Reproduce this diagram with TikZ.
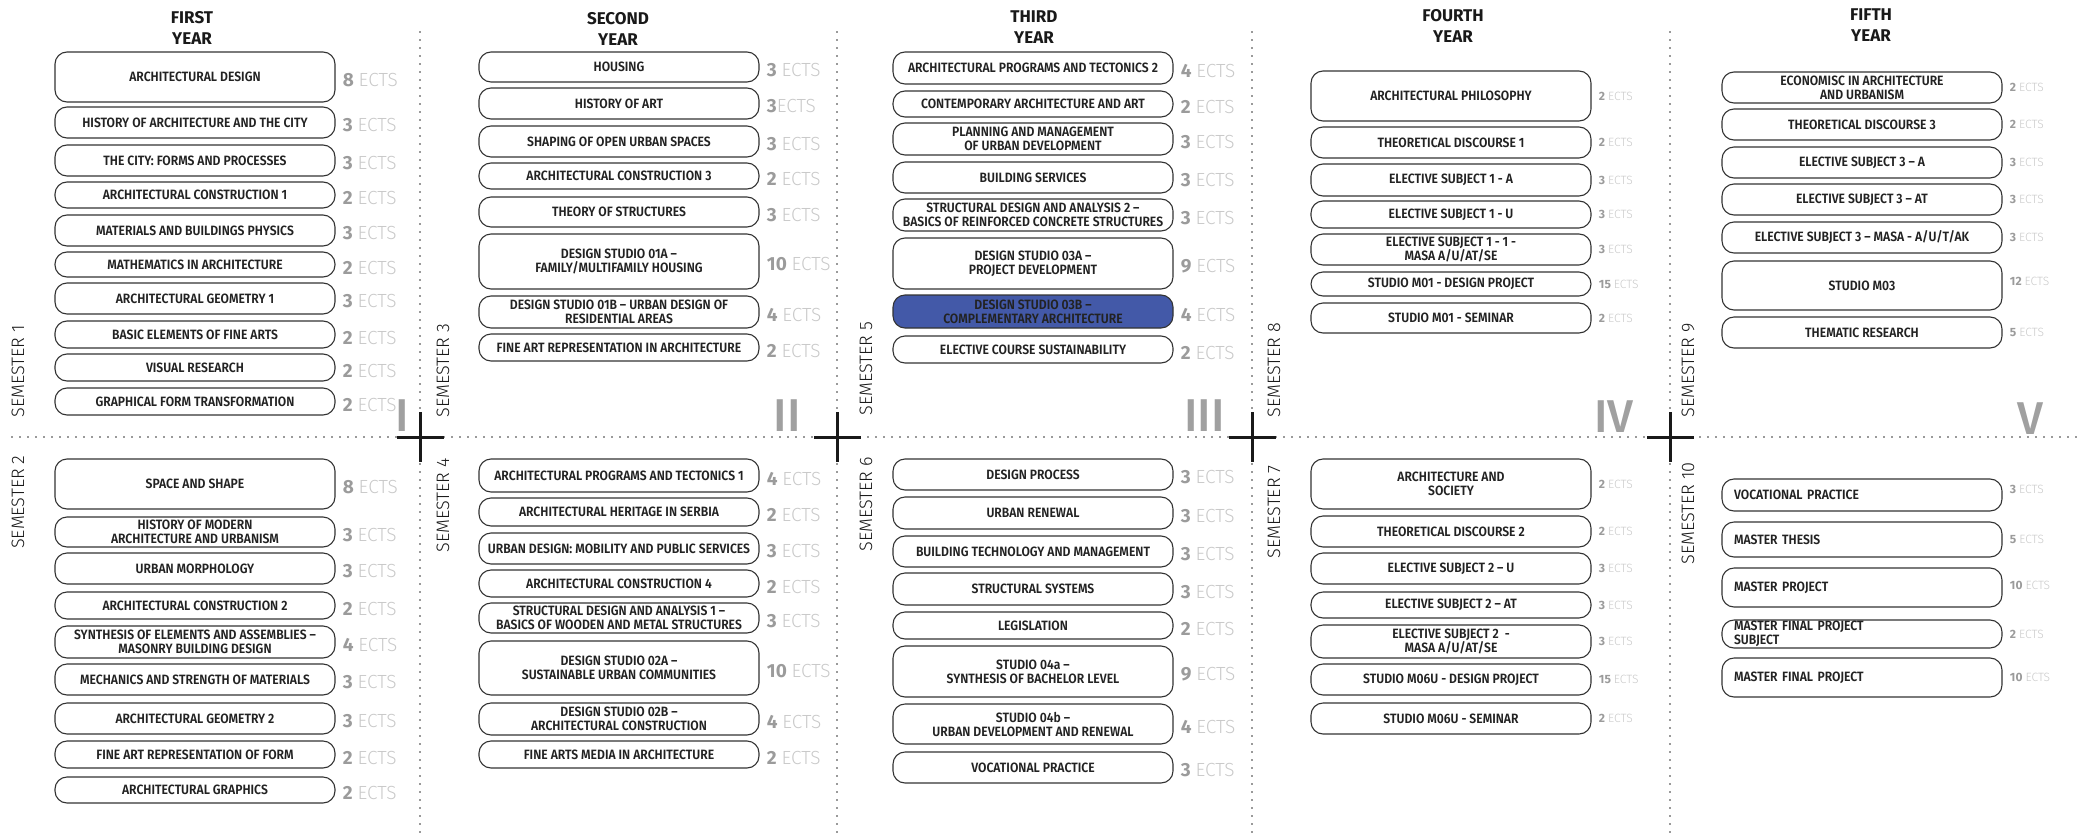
\documentclass[tikz,border=0pt]{standalone}
\usepackage{fontspec}
\setmainfont{Fira Sans}[UprightFont=* Medium, BoldFont=* Bold]
\newfontfamily\lightfont{Fira Sans Light}
\newfontfamily\coursefont{Fira Sans}[UprightFont=* SemiBold, FakeStretch=0.9]
\usetikzlibrary{positioning}

\definecolor{boxline}{HTML}{333333}
\definecolor{boxtext}{HTML}{222222}
\definecolor{ectsnum}{HTML}{9B9B9B}
\definecolor{ectsword}{HTML}{C9C9C9}
\definecolor{romangray}{HTML}{A0A0A0}
\definecolor{studioblue}{HTML}{4359A8}

\newcommand{\ects}[1]{{\bfseries\color{ectsnum}#1} {\lightfont\color{ectsword}ECTS}}

\tikzset{every picture/.style={line width=0.75pt}}
\tikzset{
  course/.style={draw=boxline, line width=1.1pt, rounded corners=12pt, minimum width=280pt,
    inner sep=0pt, align=center, text=boxtext, font=\coursefont\fontsize{13.5}{14}\selectfont},
  courseleft/.style={course, align=left, text width=256pt, inner xsep=12pt},
  ectsbig/.style={anchor=west, inner sep=0pt, yshift=-3pt, font=\fontsize{19}{19}\selectfont},
  ectssmall/.style={anchor=west, inner sep=0pt, font=\fontsize{12}{12}\selectfont},
  semester/.style={rotate=90, inner sep=0pt, text=black!90, font=\lightfont\fontsize{18}{18}\selectfont},
  yeartitle/.style={align=center, inner sep=0pt, text=black!90, font=\bfseries\fontsize{17}{21}\selectfont},
  roman/.style={anchor=south east, inner sep=0pt, text=romangray, font=\fontsize{46}{46}\selectfont},
  dotline/.style={draw=black!80, line width=1.8pt, line cap=round, dash pattern=on 0pt off 8pt},
  crossbar/.style={draw=black!90, line width=3pt}
}

\begin{document}
\begin{tikzpicture}[x=1pt,y=1pt,yscale=-1,xscale=1]
\useasboundingbox (0,0) rectangle (2080,835);

% Dotted grid
\draw [dotline] (12,437) -- (2080,437) ;
\foreach \x in {420,837,1252,1670} {
  \draw [dotline] (\x,32) -- (\x,835) ;
  \draw [crossbar] (\x-23,437) -- (\x+24,437) ;
  \draw [crossbar] (\x,412) -- (\x,462) ;
}

% Year titles
\node [yeartitle] (y1) at (192,27.5) {FIRST\\YEAR};
\node [yeartitle] (y2) at (618,28.5) {SECOND\\YEAR};
\node [yeartitle] (y3) at (1034,27) {THIRD\\YEAR};
\node [yeartitle] (y4) at (1453,25.5) {FOURTH\\YEAR};
\node [yeartitle] (y5) at (1871,25.5) {FIFTH\\YEAR};

% Roman numerals
\node [roman] (r1) at (409,432) {I};
\node [roman] (r2) at (801,432) {II};
\node [roman] (r3) at (1225,432) {III};
\node [roman] (r4) at (1634,433) {IV};
\node [roman] (r5) at (2044,435) {V};

% Semester labels
\node [semester, anchor=west] (sem1) at (18,418) {SEMESTER 1};
\node [semester, anchor=east] (sem2) at (18,455) {SEMESTER 2};
\node [semester, anchor=west] (sem3) at (443,418) {SEMESTER 3};
\node [semester, anchor=east] (sem4) at (443,458) {SEMESTER 4};
\node [semester, anchor=west] (sem5) at (866,416) {SEMESTER 5};
\node [semester, anchor=east] (sem6) at (866,457) {SEMESTER 6};
\node [semester, anchor=west] (sem8) at (1274,418) {SEMESTER 8};
\node [semester, anchor=east] (sem7) at (1274,465) {SEMESTER 7};
\node [semester, anchor=west] (sem9) at (1688,418) {SEMESTER 9};
\node [semester, anchor=east] (sem10) at (1688,462) {SEMESTER 10};

% Rounded Rect -- semester 1
\node [course, minimum height=50pt] (s1a) at (195,77) {ARCHITECTURAL DESIGN};
\node [ectsbig, right=7pt of s1a] {\ects{8}};
\node [course, minimum height=31pt] (s1b) at (195,122.5) {HISTORY OF ARCHITECTURE AND THE CITY};
\node [ectsbig, right=7pt of s1b] {\ects{3}};
\node [course, minimum height=31pt] (s1c) at (195,160.5) {THE CITY: FORMS AND PROCESSES};
\node [ectsbig, right=7pt of s1c] {\ects{3}};
\node [course, minimum height=26pt] (s1d) at (195,195) {ARCHITECTURAL CONSTRUCTION 1};
\node [ectsbig, right=7pt of s1d] {\ects{2}};
\node [course, minimum height=31pt] (s1e) at (195,230.5) {MATERIALS AND BUILDINGS PHYSICS};
\node [ectsbig, right=7pt of s1e] {\ects{3}};
\node [course, minimum height=25pt] (s1f) at (195,264.5) {MATHEMATICS IN ARCHITECTURE};
\node [ectsbig, right=7pt of s1f] {\ects{2}};
\node [course, minimum height=31pt] (s1g) at (195,298.5) {ARCHITECTURAL GEOMETRY 1};
\node [ectsbig, right=7pt of s1g] {\ects{3}};
\node [course, minimum height=27pt] (s1h) at (195,334.5) {BASIC ELEMENTS OF FINE ARTS};
\node [ectsbig, right=7pt of s1h] {\ects{2}};
\node [course, minimum height=27pt] (s1i) at (195,367.5) {VISUAL RESEARCH};
\node [ectsbig, right=7pt of s1i] {\ects{2}};
\node [course, minimum height=27pt] (s1j) at (195,401.5) {GRAPHICAL FORM TRANSFORMATION};
\node [ectsbig, right=7pt of s1j] {\ects{2}};

% Rounded Rect -- semester 2
\node [course, minimum height=50pt] (s2a) at (195,484) {SPACE AND SHAPE};
\node [ectsbig, right=7pt of s2a] {\ects{8}};
\node [course, minimum height=30pt] (s2b) at (195,532) {HISTORY OF MODERN\\ARCHITECTURE AND URBANISM};
\node [ectsbig, right=7pt of s2b] {\ects{3}};
\node [course, minimum height=31pt] (s2c) at (195,568.5) {URBAN MORPHOLOGY};
\node [ectsbig, right=7pt of s2c] {\ects{3}};
\node [course, minimum height=27pt] (s2d) at (195,605.5) {ARCHITECTURAL CONSTRUCTION 2};
\node [ectsbig, right=7pt of s2d] {\ects{2}};
\node [course, minimum height=32pt] (s2e) at (195,642) {SYNTHESIS OF ELEMENTS AND ASSEMBLIES –\\MASONRY BUILDING DESIGN};
\node [ectsbig, right=7pt of s2e] {\ects{4}};
\node [course, minimum height=31pt] (s2f) at (195,679.5) {MECHANICS AND STRENGTH OF MATERIALS};
\node [ectsbig, right=7pt of s2f] {\ects{3}};
\node [course, minimum height=31pt] (s2g) at (195,718.5) {ARCHITECTURAL GEOMETRY 2};
\node [ectsbig, right=7pt of s2g] {\ects{3}};
\node [course, minimum height=27pt] (s2h) at (195,754.5) {FINE ART REPRESENTATION OF FORM};
\node [ectsbig, right=7pt of s2h] {\ects{2}};
\node [course, minimum height=26pt] (s2i) at (195,790) {ARCHITECTURAL GRAPHICS};
\node [ectsbig, right=7pt of s2i] {\ects{2}};

% Rounded Rect -- semester 3
\node [course, minimum height=30pt] (s3a) at (619,67) {HOUSING};
\node [ectsbig, right=7pt of s3a] {\ects{3}};
\node [course, minimum height=31pt] (s3b) at (619,103.5) {HISTORY OF ART};
\node [ectsbig, right=7pt of s3b] {{\bfseries\color{ectsnum}3}{\lightfont\color{ectsword}ECTS}};
\node [course, minimum height=31pt] (s3c) at (619,141.5) {SHAPING OF OPEN URBAN SPACES};
\node [ectsbig, right=7pt of s3c] {\ects{3}};
\node [course, minimum height=26pt] (s3d) at (619,176) {ARCHITECTURAL CONSTRUCTION 3};
\node [ectsbig, right=7pt of s3d] {\ects{2}};
\node [course, minimum height=30pt] (s3e) at (619,212) {THEORY OF STRUCTURES};
\node [ectsbig, right=7pt of s3e] {\ects{3}};
\node [course, minimum height=55pt] (s3f) at (619,261.5) {DESIGN STUDIO 01A –\\FAMILY/MULTIFAMILY HOUSING};
\node [ectsbig, right=7pt of s3f] {\ects{10}};
\node [course, minimum height=32pt] (s3g) at (619,312) {DESIGN STUDIO 01B – URBAN DESIGN OF\\RESIDENTIAL AREAS};
\node [ectsbig, right=7pt of s3g] {\ects{4}};
\node [course, minimum height=27pt] (s3h) at (619,347.5) {FINE ART REPRESENTATION IN ARCHITECTURE};
\node [ectsbig, right=7pt of s3h] {\ects{2}};

% Rounded Rect -- semester 4
\node [course, minimum height=33pt] (s4a) at (619,475.5) {ARCHITECTURAL PROGRAMS AND TECTONICS 1};
\node [ectsbig, right=7pt of s4a] {\ects{4}};
\node [course, minimum height=28pt] (s4b) at (619,512) {ARCHITECTURAL HERITAGE IN SERBIA};
\node [ectsbig, right=7pt of s4b] {\ects{2}};
\node [course, minimum height=31pt] (s4c) at (619,548.5) {URBAN DESIGN: MOBILITY AND PUBLIC SERVICES};
\node [ectsbig, right=7pt of s4c] {\ects{3}};
\node [course, minimum height=27pt] (s4d) at (619,583.5) {ARCHITECTURAL CONSTRUCTION 4};
\node [ectsbig, right=7pt of s4d] {\ects{2}};
\node [course, minimum height=30pt] (s4e) at (619,618) {STRUCTURAL DESIGN AND ANALYSIS  1 –\\BASICS OF WOODEN AND METAL STRUCTURES};
\node [ectsbig, right=7pt of s4e] {\ects{3}};
\node [course, minimum height=54pt] (s4f) at (619,668) {DESIGN STUDIO 02A –\\SUSTAINABLE URBAN COMMUNITIES};
\node [ectsbig, right=7pt of s4f] {\ects{10}};
\node [course, minimum height=32pt] (s4g) at (619,719) {DESIGN STUDIO 02B –\\ARCHITECTURAL CONSTRUCTION};
\node [ectsbig, right=7pt of s4g] {\ects{4}};
\node [course, minimum height=27pt] (s4h) at (619,754.5) {FINE ARTS MEDIA IN ARCHITECTURE};
\node [ectsbig, right=7pt of s4h] {\ects{2}};

% Rounded Rect -- semester 5
\node [course, minimum height=32pt] (s5a) at (1033,68) {ARCHITECTURAL PROGRAMS AND TECTONICS 2};
\node [ectsbig, right=7pt of s5a] {\ects{4}};
\node [course, minimum height=26pt] (s5b) at (1033,104) {CONTEMPORARY ARCHITECTURE AND ART};
\node [ectsbig, right=7pt of s5b] {\ects{2}};
\node [course, minimum height=32pt] (s5c) at (1033,139) {PLANNING AND MANAGEMENT\\OF URBAN DEVELOPMENT};
\node [ectsbig, right=7pt of s5c] {\ects{3}};
\node [course, minimum height=31pt] (s5d) at (1033,177.5) {BUILDING SERVICES};
\node [ectsbig, right=7pt of s5d] {\ects{3}};
\node [course, minimum height=32pt] (s5e) at (1033,215) {STRUCTURAL DESIGN AND ANALYSIS 2 –\\BASICS OF REINFORCED CONCRETE STRUCTURES};
\node [ectsbig, right=7pt of s5e] {\ects{3}};
\node [course, minimum height=51pt] (s5f) at (1033,263.5) {DESIGN STUDIO 03A –\\PROJECT DEVELOPMENT};
\node [ectsbig, right=7pt of s5f] {\ects{9}};
\node [course, fill=studioblue, minimum height=33pt] (s5g) at (1033,311.5) {DESIGN STUDIO 03B –\\COMPLEMENTARY ARCHITECTURE};
\node [ectsbig, right=7pt of s5g] {\ects{4}};
\node [course, minimum height=27pt] (s5h) at (1033,349.5) {ELECTIVE COURSE SUSTAINABILITY};
\node [ectsbig, right=7pt of s5h] {\ects{2}};

% Rounded Rect -- semester 6
\node [course, minimum height=31pt] (s6a) at (1033,474.5) {DESIGN PROCESS};
\node [ectsbig, right=7pt of s6a] {\ects{3}};
\node [course, minimum height=32pt] (s6b) at (1033,513) {URBAN RENEWAL};
\node [ectsbig, right=7pt of s6b] {\ects{3}};
\node [course, minimum height=31pt] (s6c) at (1033,551.5) {BUILDING TECHNOLOGY AND MANAGEMENT};
\node [ectsbig, right=7pt of s6c] {\ects{3}};
\node [course, minimum height=32pt] (s6d) at (1033,589) {STRUCTURAL SYSTEMS};
\node [ectsbig, right=7pt of s6d] {\ects{3}};
\node [course, minimum height=27pt] (s6e) at (1033,625.5) {LEGISLATION};
\node [ectsbig, right=7pt of s6e] {\ects{2}};
\node [course, minimum height=51pt] (s6f) at (1033,671.5) {STUDIO 04a –\\SYNTHESIS OF BACHELOR LEVEL};
\node [ectsbig, right=7pt of s6f] {\ects{9}};
\node [course, minimum height=40pt] (s6g) at (1033,724) {STUDIO 04b –\\URBAN DEVELOPMENT AND RENEWAL};
\node [ectsbig, right=7pt of s6g] {\ects{4}};
\node [course, minimum height=31pt] (s6h) at (1033,767.5) {VOCATIONAL PRACTICE};
\node [ectsbig, right=7pt of s6h] {\ects{3}};

% Rounded Rect -- semester 8
\node [course, minimum height=50pt] (s8a) at (1451,96) {ARCHITECTURAL PHILOSOPHY};
\node [ectssmall, right=7pt of s8a] {\ects{2}};
\node [course, minimum height=31pt] (s8b) at (1451,142.5) {THEORETICAL DISCOURSE 1};
\node [ectssmall, right=7pt of s8b] {\ects{2}};
\node [course, minimum height=32pt] (s8c) at (1451,180) {ELECTIVE SUBJECT 1 - A};
\node [ectssmall, right=7pt of s8c] {\ects{3}};
\node [course, minimum height=27pt] (s8d) at (1451,214.5) {ELECTIVE SUBJECT 1 - U};
\node [ectssmall, right=7pt of s8d] {\ects{3}};
\node [course, minimum height=31pt] (s8e) at (1451,249.5) {ELECTIVE SUBJECT 1 - 1 -\\MASA A/U/AT/SE};
\node [ectssmall, right=7pt of s8e] {\ects{3}};
\node [course, minimum height=24pt] (s8f) at (1451,284) {STUDIO M01 - DESIGN PROJECT};
\node [ectssmall, right=7pt of s8f] {\ects{15}};
\node [course, minimum height=30pt] (s8g) at (1451,318) {STUDIO M01 - SEMINAR};
\node [ectssmall, right=7pt of s8g] {\ects{2}};

% Rounded Rect -- semester 7
\node [course, minimum height=50pt] (s7a) at (1451,484) {ARCHITECTURE AND\\SOCIETY};
\node [ectssmall, right=7pt of s7a] {\ects{2}};
\node [course, minimum height=31pt] (s7b) at (1451,531.5) {THEORETICAL DISCOURSE 2};
\node [ectssmall, right=7pt of s7b] {\ects{2}};
\node [course, minimum height=31pt] (s7c) at (1451,568.5) {ELECTIVE SUBJECT 2 – U};
\node [ectssmall, right=7pt of s7c] {\ects{3}};
\node [course, minimum height=26pt] (s7d) at (1451,605) {ELECTIVE SUBJECT 2 – AT};
\node [ectssmall, right=7pt of s7d] {\ects{3}};
\node [course, minimum height=33pt] (s7e) at (1451,641.5) {ELECTIVE SUBJECT 2 \ -\\MASA A/U/AT/SE};
\node [ectssmall, right=7pt of s7e] {\ects{3}};
\node [course, minimum height=31pt] (s7f) at (1451,679.5) {STUDIO M06U - DESIGN PROJECT};
\node [ectssmall, right=7pt of s7f] {\ects{15}};
\node [course, minimum height=31pt] (s7g) at (1451,718.5) {STUDIO M06U - SEMINAR};
\node [ectssmall, right=7pt of s7g] {\ects{2}};

% Rounded Rect -- semester 9
\node [course, minimum height=31pt] (s9a) at (1862,87.5) {ECONOMISC IN ARCHITECTURE\\AND URBANISM};
\node [ectssmall, right=7pt of s9a] {\ects{2}};
\node [course, minimum height=31pt] (s9b) at (1862,124.5) {THEORETICAL DISCOURSE 3};
\node [ectssmall, right=7pt of s9b] {\ects{2}};
\node [course, minimum height=31pt] (s9c) at (1862,162.5) {ELECTIVE SUBJECT 3 – A};
\node [ectssmall, right=7pt of s9c] {\ects{3}};
\node [course, minimum height=31pt] (s9d) at (1862,199.5) {ELECTIVE SUBJECT 3 – AT};
\node [ectssmall, right=7pt of s9d] {\ects{3}};
\node [course, minimum height=31pt] (s9e) at (1862,237.5) {ELECTIVE SUBJECT 3 – MASA - A/U/T/AK};
\node [ectssmall, right=7pt of s9e] {\ects{3}};
\node [course, minimum height=49pt] (s9f) at (1862,285.5) {STUDIO M03};
\node [ectssmall, right=7pt of s9f, yshift=4pt] {\ects{12}};
\node [course, minimum height=31pt] (s9g) at (1862,332.5) {THEMATIC RESEARCH};
\node [ectssmall, right=7pt of s9g] {\ects{5}};

% Rounded Rect -- semester 10
\node [courseleft, minimum height=32pt] (s10a) at (1862,495) {VOCATIONAL PRACTICE};
\node [ectssmall, right=7pt of s10a, yshift=6pt] {\ects{3}};
\node [courseleft, minimum height=35pt] (s10b) at (1862,539.5) {MASTER THESIS};
\node [ectssmall, right=7pt of s10b] {\ects{5}};
\node [courseleft, minimum height=39pt] (s10c) at (1862,587.5) {MASTER PROJECT};
\node [ectssmall, right=7pt of s10c, yshift=2pt] {\ects{10}};
\node [courseleft, minimum height=28pt] (s10d) at (1862,634) {MASTER FINAL PROJECT\\SUBJECT};
\node [ectssmall, right=7pt of s10d] {\ects{2}};
\node [courseleft, minimum height=39pt] (s10e) at (1862,677.5) {MASTER FINAL PROJECT};
\node [ectssmall, right=7pt of s10e] {\ects{10}};

\end{tikzpicture}
\end{document}
